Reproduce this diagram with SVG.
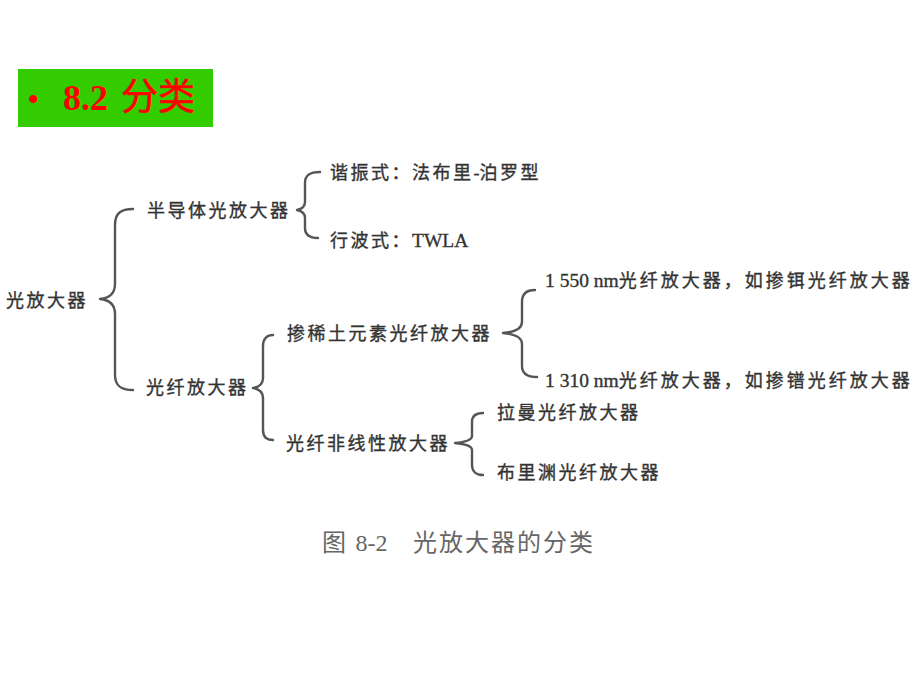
<svg xmlns="http://www.w3.org/2000/svg" width="920" height="690" viewBox="0 0 920 690">
<style>
.t{font-family:"Noto Sans CJK SC","Noto Sans",sans-serif;font-size:18px;letter-spacing:2.5px;fill:#333;stroke:#333;stroke-width:0.35px;}
.w{letter-spacing:3px;}
.l{font-family:"Liberation Serif","Noto Sans CJK SC",serif;letter-spacing:0;}
.n{font-size:19.5px;}
.b{fill:none;stroke:#555;stroke-width:2.4;stroke-linecap:round;stroke-linejoin:round;}
.cap{font-family:"Noto Sans CJK SC","Noto Sans",sans-serif;font-size:24px;fill:#666;letter-spacing:2px;}
</style>
<rect width="920" height="690" fill="#ffffff"/>
<g id="title">
<rect x="18" y="69" width="195" height="58" fill="#33cc00"/>
<text x="28" y="109" font-family="Liberation Serif,serif" font-size="30" font-weight="bold" fill="#ff0000">•</text>
<text x="63" y="110" font-family="Liberation Serif,serif" font-size="36" font-weight="bold" fill="#ff0000">8.2</text>
<text x="121" y="110" font-family="Noto Sans CJK SC,sans-serif" font-size="37" fill="#ff0000" stroke="#ff0000" stroke-width="0.6">分类</text>
</g>
<g id="connectors">
<path class="b" d="M133,209 C121,209 115,213 115,225 L115,284 C115,293 110,298 100,299 C110,300 115,305 115,314 L115,375 C115,386 121,390 133,390"/>
<path class="b" d="M320,172 C310,172 305,175 305,183 L305,202 C305,207 302,209 297,210 C302,211 305,213 305,218 L305,228 C305,235 310,238 318,238"/>
<path class="b" d="M273,335 C267,335 263,339 263,346 L263,378 C263,384 259,387 253,388 C259,389 263,392 263,398 L263,430 C263,437 267,440 273,440"/>
<path class="b" d="M535,290 C527,290 522,294 522,302 L522,322 C522,328 515,332 503,333 C515,334 522,338 522,344 L522,366 C522,373 527,377 537,377"/>
<path class="b" d="M483,413 C476,413 472,416 472,422 L472,436 C472,440 466,442 455,443 C466,444 472,446 472,450 L472,465 C472,471 476,475 483,475"/>
</g>
<g id="n-root"><text class="t" x="6" y="307">光放大器</text></g>
<g id="n-semi"><text class="t" x="147" y="217">半导体光放大器</text></g>
<g id="n-fp"><text class="t" x="330" y="179">谐振式：法布里<tspan class="l">-</tspan>泊罗型</text></g>
<g id="n-tw"><text class="t" x="330" y="247">行波式：<tspan class="l n">TWLA</tspan></text></g>
<g id="n-fiber"><text class="t" x="146" y="394">光纤放大器</text></g>
<g id="n-rare"><text class="t" x="287" y="340">掺稀土元素光纤放大器</text></g>
<g id="n-nonlin"><text class="t" x="286" y="450">光纤非线性放大器</text></g>
<g id="n-1550"><text class="t w" x="545" y="287"><tspan class="l n">1 550 nm</tspan>光纤放大器，如掺铒光纤放大器</text></g>
<g id="n-1310"><text class="t w" x="545" y="387"><tspan class="l n">1 310 nm</tspan>光纤放大器，如掺镨光纤放大器</text></g>
<g id="n-raman"><text class="t" x="497" y="419">拉曼光纤放大器</text></g>
<g id="n-brillouin"><text class="t" x="497" y="479">布里渊光纤放大器</text></g>
<g id="caption">
<text class="cap" x="322" y="551">图 <tspan font-family="Liberation Serif,serif" letter-spacing="0">8-2</tspan><tspan x="413">光放大器的分类</tspan></text>
</g>
</svg>
